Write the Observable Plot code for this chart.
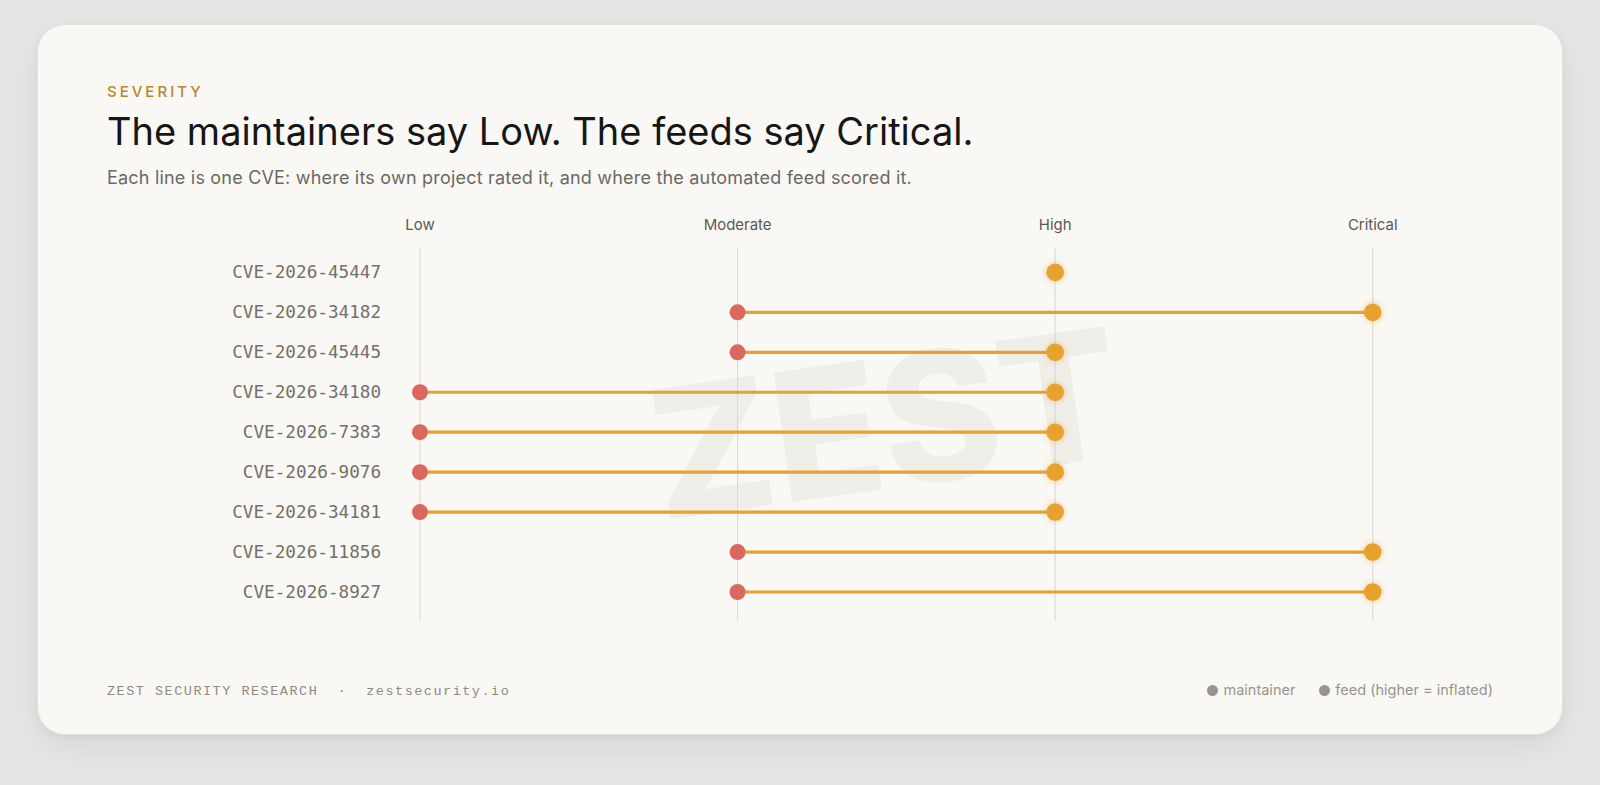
<!DOCTYPE html>
<html>
<head>
<meta charset="utf-8">
<script src="https://cdn.jsdelivr.net/npm/d3@7"></script>
<script src="https://cdn.jsdelivr.net/npm/@observablehq/plot@0.6"></script>
<style>
  html, body { margin: 0; padding: 0; }
  body { width: 1600px; height: 785px; background: #e6e6e6; position: relative; overflow: hidden; font-family: Inter, "Noto Sans", sans-serif; }
  .card { position: absolute; left: 37px; top: 24px; width: 1526px; height: 711px; box-sizing: border-box;
          background: #f9f8f5; border: 1px solid #e6e2d8; border-radius: 28px;
          box-shadow: 0 12px 32px rgba(0,0,0,0.07), 0 2px 6px rgba(0,0,0,0.04); }
  .abs { position: absolute; white-space: pre; line-height: 1; }
  .kicker { left: 69px; top: 59px; font-size: 15px; letter-spacing: 3px; color: #b8862b; font-weight: 500; }
  .title { left: 69px; top: 87px; font-size: 38px; color: #161616; font-weight: 400; letter-spacing: 0px; }
  .subtitle { left: 69px; top: 144px; font-size: 18px; letter-spacing: 0.2px; color: #6b6863; }
  .footer { left: 69px; top: 660px; font-family: "Liberation Mono", monospace; font-size: 13.5px; letter-spacing: 1.5px; color: #8e8a82; }
  .legend { right: 69px; top: 658px; font-size: 14.5px; color: #9a958c; display: flex; align-items: center; }
  .legend .sw { display: inline-block; width: 11px; height: 11px; border-radius: 50%; background: #9a958c; margin-right: 5px; }
  .legend .item { display: flex; align-items: center; }
  .legend .item + .item { margin-left: 24px; }
  #chart { position: absolute; left: 0; top: 171px; }
</style>
</head>
<body>
<div class="card">
  <div class="abs kicker">SEVERITY</div>
  <div class="abs title">The maintainers say Low. The feeds say Critical.</div>
  <div class="abs subtitle">Each line is one CVE: where its own project rated it, and where the automated feed scored it.</div>
  <div id="chart"></div>
  <div class="abs footer">ZEST SECURITY RESEARCH  ·  zestsecurity.io</div>
  <div class="abs legend">
    <span class="item"><span class="sw"></span>maintainer</span>
    <span class="item"><span class="sw"></span>feed (higher = inflated)</span>
  </div>
</div>
<script>
// Severity levels, left to right
const levels = ["Low", "Moderate", "High", "Critical"];

// One row per CVE, top to bottom
const cves = [
  "CVE-2026-45447",
  "CVE-2026-34182",
  "CVE-2026-45445",
  "CVE-2026-34180",
  "CVE-2026-7383",
  "CVE-2026-9076",
  "CVE-2026-34181",
  "CVE-2026-11856",
  "CVE-2026-8927"
];

// Rating given by the project's own maintainers
const maintainerRating = ["High", "Moderate", "Moderate", "Low", "Low", "Low", "Low", "Moderate", "Moderate"];

// Score assigned by the automated vulnerability feed
const feedRating = ["High", "Critical", "High", "High", "High", "High", "High", "Critical", "Critical"];

const watermark = ["ZEST"];

const rows = cves.map((cve, i) => ({cve, maintainer: maintainerRating[i], feed: feedRating[i]}));

const feedColor = "#e6a12f";
const maintainerColor = "#d9685e";

const chart = Plot.plot({
  width: 1526,
  height: 440,
  marginTop: 52,
  marginBottom: 15,
  marginLeft: 381,
  marginRight: 190,
  style: {background: "transparent", fontFamily: "Inter, sans-serif", overflow: "visible"},
  x: {type: "point", domain: levels, padding: 0, axis: null},
  y: {type: "point", domain: cves, range: [74.5, 396.5], padding: 0, axis: null},
  marks: [
    Plot.text(watermark, {
      frameAnchor: "middle", text: d => d, dx: -9, dy: -4, rotate: -8,
      fontSize: 180, fontWeight: 800, fontFamily: "Inter, sans-serif", fill: "#f0eee9"
    }),
    Plot.gridX({stroke: "#dad7d0", strokeOpacity: 1, strokeWidth: 1}),
    Plot.axisX({anchor: "top", tickSize: 0, tickPadding: 18, fontSize: 15, fill: "#5c5954", label: null}),
    Plot.axisY({anchor: "left", tickSize: 0, tickPadding: 38, fontSize: 17.7, fontFamily: "DejaVu Sans Mono, monospace", fill: "#74706a", label: null}),
    Plot.link(rows, {x1: "maintainer", x2: "feed", y1: "cve", y2: "cve", stroke: feedColor, strokeWidth: 3.2}),
    Plot.dot(rows, {x: "maintainer", y: "cve", r: 8, fill: maintainerColor}),
    Plot.dot(rows, {x: "feed", y: "cve", r: 8.8, fill: feedColor})
  ]
});

document.getElementById("chart").appendChild(chart);

// Soft glow around the feed dots
const dotGroups = d3.select(chart).selectAll('g[aria-label="dot"]');
d3.select(dotGroups.nodes()[dotGroups.size() - 1])
  .style("filter", "drop-shadow(0 0 3px rgba(232, 160, 40, 0.55))");
</script>
</body>
</html>
